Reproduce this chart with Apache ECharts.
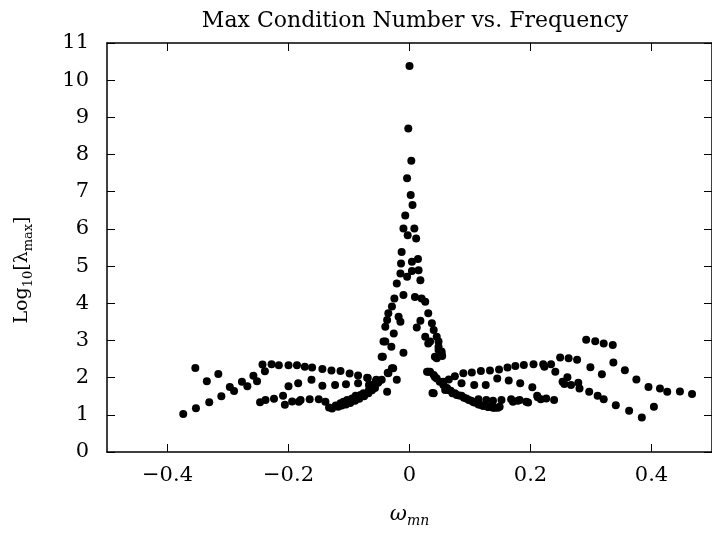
<!DOCTYPE html>
<html>
<head>
<meta charset="UTF-8">
<title>Max Condition Number vs. Frequency</title>
<script src="https://cdn.jsdelivr.net/npm/echarts@6/dist/echarts.min.js"></script>
<style>
  html, body { margin: 0; padding: 0; background: #fff; }
  #main { width: 712px; height: 538px; }
</style>
</head>
<body>
<div id="main"></div>
<script type="text/javascript">
    // tick values
    var xTicks = [-0.4, -0.2, 0, 0.2, 0.4];
    var yTicks = [0, 1, 2, 3, 4, 5, 6, 7, 8, 9, 10, 11];

    // left wing [omega, log10 lambda]
    var leftWing = [
        [-0.374, 1.02], [-0.353, 1.18], [-0.354, 2.26], [-0.335, 1.90], [-0.331, 1.34],
        [-0.316, 2.10], [-0.311, 1.50], [-0.297, 1.75], [-0.290, 1.64], [-0.277, 1.89],
        [-0.268, 1.77], [-0.258, 2.05], [-0.252, 1.90], [-0.243, 2.35], [-0.239, 2.17],
        [-0.228, 2.36], [-0.216, 2.33], [-0.200, 2.33], [-0.186, 2.33], [-0.173, 2.29],
        [-0.161, 2.27], [-0.144, 2.23], [-0.129, 2.19], [-0.114, 2.18], [-0.099, 2.11],
        [-0.085, 2.06], [-0.069, 1.99], [-0.055, 1.94],
        [-0.200, 1.77], [-0.184, 1.85], [-0.162, 1.94], [-0.144, 1.78], [-0.123, 1.80],
        [-0.105, 1.82], [-0.085, 1.85], [-0.067, 1.80], [-0.051, 1.89],
        [-0.247, 1.34], [-0.238, 1.40], [-0.224, 1.43], [-0.209, 1.51], [-0.206, 1.27],
        [-0.194, 1.36], [-0.183, 1.35], [-0.180, 1.40], [-0.165, 1.42], [-0.150, 1.42],
        [-0.139, 1.35], [-0.133, 1.20], [-0.128, 1.17], [-0.122, 1.25], [-0.118, 1.22],
        [-0.114, 1.31], [-0.112, 1.25], [-0.109, 1.35], [-0.105, 1.28], [-0.103, 1.40],
        [-0.098, 1.32], [-0.095, 1.44], [-0.090, 1.38], [-0.089, 1.51], [-0.083, 1.43],
        [-0.081, 1.53], [-0.076, 1.58], [-0.075, 1.50], [-0.068, 1.58], [-0.067, 1.67],
        [-0.062, 1.66], [-0.059, 1.76], [-0.057, 1.72], [-0.052, 1.86], [-0.046, 1.94],
        [-0.062, 1.80], [-0.056, 1.89], [-0.070, 2.00]
    ];

    // central peak
    var peak = [
        [0.000, 10.38], [-0.002, 8.70], [0.003, 7.83], [-0.004, 7.36], [0.002, 6.91],
        [0.005, 6.64], [-0.007, 6.36], [-0.010, 6.01], [0.008, 6.01], [-0.003, 5.83],
        [0.011, 5.74], [-0.013, 5.38], [0.014, 5.19], [0.004, 5.12], [-0.014, 5.07],
        [0.015, 4.89], [-0.015, 4.80], [0.004, 4.87], [-0.004, 4.71], [0.018, 4.62],
        [-0.021, 4.53], [-0.010, 4.22], [-0.025, 4.13], [0.009, 4.17], [0.020, 4.13],
        [0.026, 4.04], [-0.029, 3.91], [0.031, 3.73], [-0.035, 3.73], [-0.018, 3.64],
        [-0.037, 3.55], [-0.015, 3.50], [0.018, 3.53], [0.037, 3.46], [-0.040, 3.37],
        [0.012, 3.35], [0.040, 3.28], [-0.026, 3.19], [0.045, 3.10], [0.026, 3.10],
        [-0.043, 2.97], [0.031, 2.92], [-0.030, 2.83], [0.048, 2.83], [-0.010, 2.67],
        [0.053, 2.70], [-0.046, 2.56], [0.045, 2.52], [-0.029, 2.25], [-0.021, 1.94],
        [-0.035, 2.12], [0.031, 2.16], [0.042, 2.02], [-0.037, 1.62], [0.038, 1.59],
        [-0.040, 2.97], [-0.044, 2.56], [0.034, 2.97], [0.048, 2.97], [0.048, 2.74],
        [0.054, 2.58], [0.042, 2.56], [-0.027, 2.25], [-0.036, 2.13]
    ];

    // right wing
    var rightWing = [
        [0.034, 2.16], [0.040, 2.07], [0.045, 1.98], [0.050, 1.89], [0.056, 1.80],
        [0.062, 1.72], [0.068, 1.65], [0.075, 1.58], [0.082, 1.52], [0.090, 1.46],
        [0.098, 1.40], [0.106, 1.34], [0.114, 1.28], [0.122, 1.24], [0.130, 1.21],
        [0.138, 1.19], [0.146, 1.19],
        [0.064, 1.67], [0.071, 1.58], [0.078, 1.53], [0.086, 1.51], [0.094, 1.44],
        [0.102, 1.38], [0.108, 1.33], [0.114, 1.42], [0.119, 1.26], [0.127, 1.40],
        [0.130, 1.22], [0.138, 1.38], [0.141, 1.19], [0.149, 1.22], [0.152, 1.40],
        [0.168, 1.42], [0.179, 1.38], [0.193, 1.35],
        [0.075, 2.04], [0.089, 2.12], [0.103, 2.14], [0.118, 2.18], [0.133, 2.19],
        [0.148, 2.22], [0.162, 2.27], [0.175, 2.31], [0.189, 2.34], [0.205, 2.36],
        [0.221, 2.36], [0.223, 2.29], [0.234, 2.36], [0.241, 2.16], [0.249, 2.54],
        [0.263, 2.52], [0.277, 2.48], [0.292, 3.02], [0.307, 2.98], [0.321, 2.92],
        [0.336, 2.88], [0.337, 2.41], [0.299, 2.28], [0.318, 2.09], [0.356, 2.20],
        [0.375, 1.95], [0.395, 1.75], [0.414, 1.71], [0.426, 1.62], [0.447, 1.63],
        [0.467, 1.56],
        [0.065, 1.95], [0.086, 1.85], [0.107, 1.80], [0.126, 1.80], [0.145, 1.98],
        [0.164, 1.92], [0.183, 1.85], [0.203, 1.74], [0.253, 1.89], [0.261, 2.01],
        [0.256, 1.83], [0.267, 1.80], [0.279, 1.86], [0.281, 1.71], [0.297, 1.62],
        [0.311, 1.51], [0.321, 1.42], [0.341, 1.26], [0.363, 1.11], [0.384, 0.93],
        [0.404, 1.22],
        [0.182, 1.40], [0.196, 1.33], [0.212, 1.47], [0.217, 1.42], [0.226, 1.44],
        [0.239, 1.40], [0.211, 1.51], [0.171, 1.35], [0.040, 1.58], [0.056, 1.89],
        [0.059, 1.67], [0.029, 2.16], [0.053, 2.65]
    ];

    var serif = 'DejaVu Serif';

    var myChart = echarts.init(document.getElementById('main'), null, { renderer: 'canvas' });

    var option = {
        backgroundColor: '#fff',
        animation: false,
        title: {
            text: 'Max Condition Number vs. Frequency',
            left: 410,
            top: 5,
            textAlign: 'center',
            textStyle: { fontFamily: serif, fontSize: 22, fontWeight: 'normal', color: '#000' }
        },
        // y axis title, placed by hand like the reference
        graphic: [{
            type: 'text',
            x: 22,
            y: 270,
            rotation: Math.PI / 2,
            style: {
                text: '{n|Log}{s|10}{n|[\u03bb}{s|max}{n|]}',
                align: 'center',
                verticalAlign: 'middle',
                rich: {
                    n: { fontFamily: serif, fontSize: 19, fill: '#000', lineHeight: 26 },
                    s: { fontFamily: serif, fontSize: 13, fill: '#000', verticalAlign: 'bottom', lineHeight: 26, padding: [8, 0, 0, 0] }
                }
            }
        }],
        grid: { left: 107, top: 43, width: 607, height: 409 },
        xAxis: [{
            type: 'value',
            min: -0.5,
            max: 0.5,
            position: 'bottom',
            splitLine: { show: false },
            axisLine: { onZero: false, lineStyle: { color: '#000', width: 1.5 } },
            axisTick: { inside: true, length: 8, customValues: xTicks, lineStyle: { color: '#000' } },
            axisLabel: {
                customValues: xTicks,
                margin: 13,
                fontFamily: serif, fontSize: 21, color: '#000',
                formatter: function (v) { return v < 0 ? '\u2212' + (-v) : String(v); }
            },
            name: '{w|\u03c9}{s|mn}',
            nameLocation: 'middle',
            nameGap: 50,
            nameTextStyle: {
                rich: {
                    w: { fontFamily: serif, fontStyle: 'italic', fontSize: 21, color: '#000', lineHeight: 26 },
                    s: { fontFamily: serif, fontStyle: 'italic', fontSize: 14, color: '#000', verticalAlign: 'bottom', lineHeight: 26, padding: [8, 0, 0, 0] }
                }
            }
        }, {
            type: 'value',
            min: -0.5,
            max: 0.5,
            position: 'top',
            splitLine: { show: false },
            axisLine: { onZero: false, lineStyle: { color: '#000', width: 1.5 } },
            axisTick: { inside: true, length: 8, customValues: xTicks, lineStyle: { color: '#000' } },
            axisLabel: { show: false }
        }],
        yAxis: [{
            type: 'value',
            min: 0,
            max: 11,
            interval: 1,
            position: 'left',
            splitLine: { show: false },
            axisLine: { onZero: false, lineStyle: { color: '#000', width: 1.5 } },
            axisTick: { inside: true, length: 8, lineStyle: { color: '#000' } },
            axisLabel: {
                margin: 18,
                fontFamily: serif, fontSize: 21, color: '#000',
                formatter: function (v) { return yTicks.indexOf(v) >= 0 ? String(v) : ''; }
            }
        }, {
            type: 'value',
            min: 0,
            max: 11,
            interval: 1,
            position: 'right',
            splitLine: { show: false },
            axisLine: { onZero: false, lineStyle: { color: '#000', width: 1.5 } },
            axisTick: { inside: true, length: 8, lineStyle: { color: '#000' } },
            axisLabel: { show: false }
        }],
        series: [
            { type: 'scatter', name: 'left', data: leftWing, symbolSize: 8, itemStyle: { color: '#000', opacity: 1 } },
            { type: 'scatter', name: 'peak', data: peak, symbolSize: 8, itemStyle: { color: '#000', opacity: 1 } },
            { type: 'scatter', name: 'right', data: rightWing, symbolSize: 8, itemStyle: { color: '#000', opacity: 1 } }
        ]
    };

    myChart.setOption(option);
</script>
</body>
</html>
